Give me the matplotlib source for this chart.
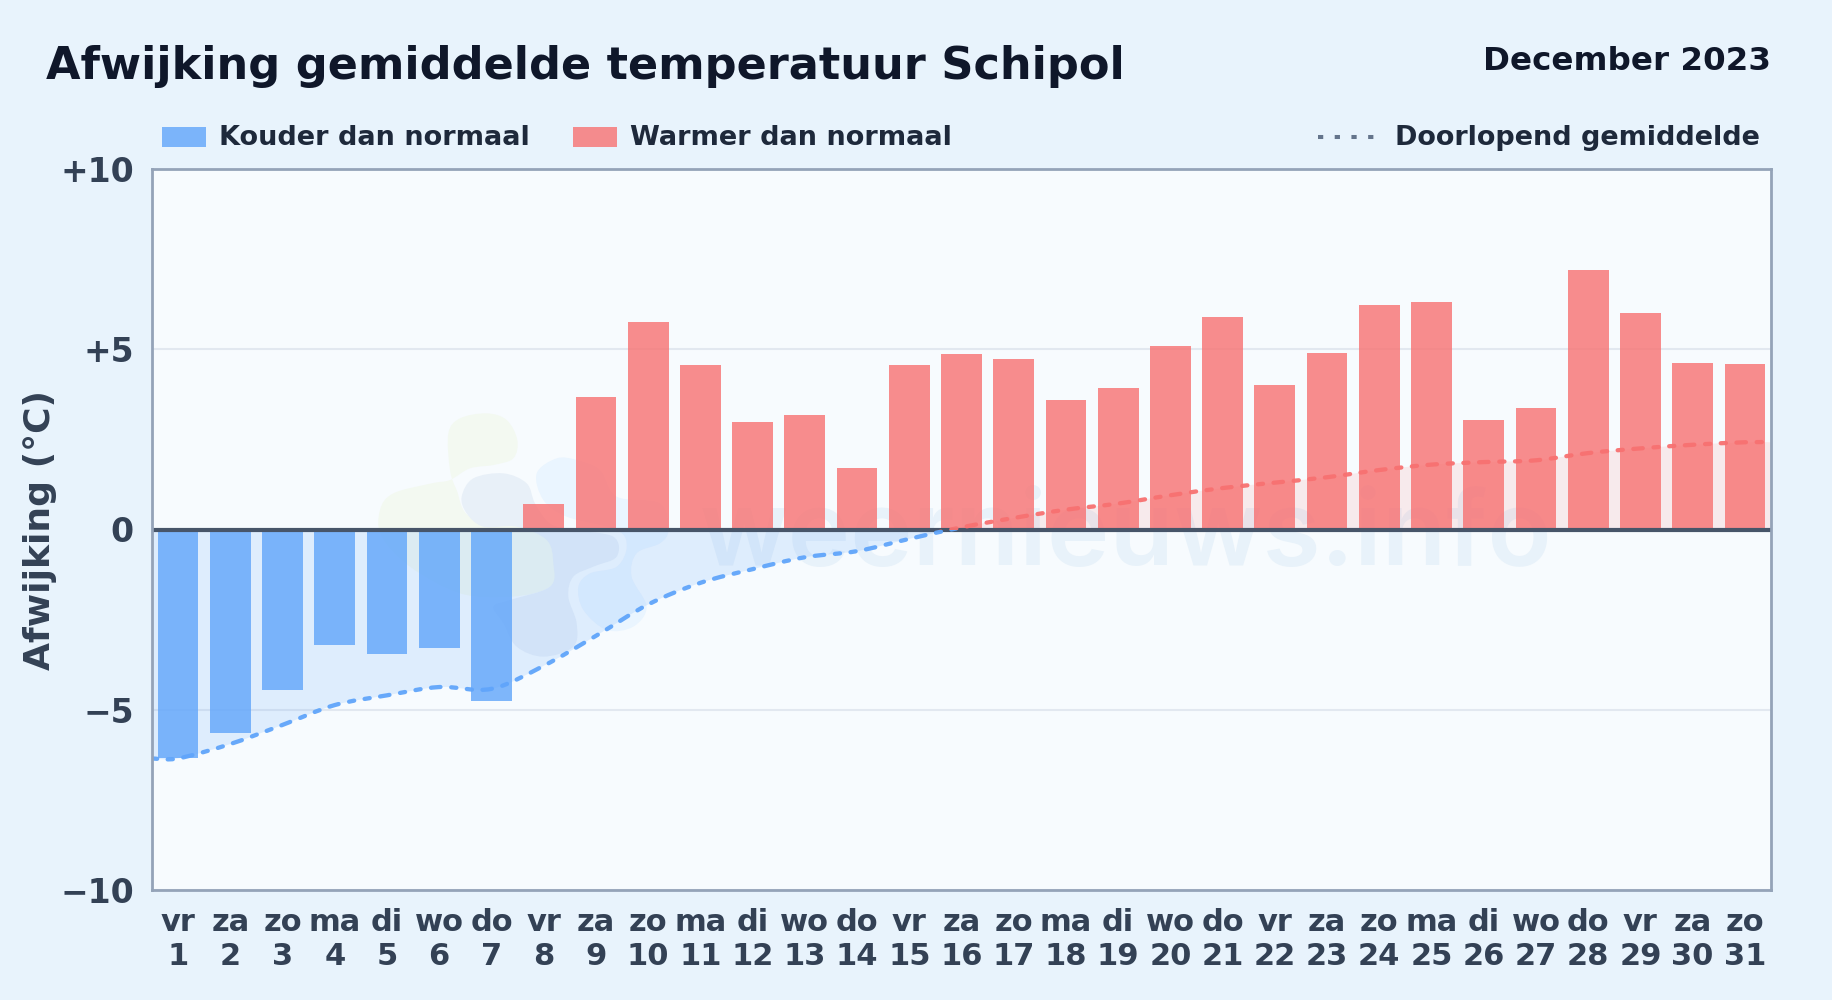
import numpy as np
import matplotlib
matplotlib.use("Agg")
import matplotlib.pyplot as plt
from matplotlib.path import Path
from matplotlib.patches import PathPatch, Rectangle
from matplotlib.transforms import Affine2D

# --- data ---
weekdays = ['vr', 'za', 'zo', 'ma', 'di', 'wo', 'do', 'vr', 'za', 'zo', 'ma', 'di', 'wo', 'do', 'vr', 'za',
            'zo', 'ma', 'di', 'wo', 'do', 'vr', 'za', 'zo', 'ma', 'di', 'wo', 'do', 'vr', 'za', 'zo']
days = list(range(1, 32))
deviation = [-6.35, -5.65, -4.45, -3.2, -3.45, -3.3, -4.75, 0.7, 3.67, 5.75, 4.55, 2.97, 3.17, 1.7, 4.55, 4.87,
             4.72, 3.6, 3.92, 5.1, 5.9, 4.0, 4.9, 6.22, 6.3, 3.05, 3.38, 7.2, 6.0, 4.62, 4.6]
running_mean = [-6.35, -5.95, -5.42, -4.87, -4.6, -4.37, -4.42, -3.78, -2.95, -2.08, -1.48, -1.1, -0.77, -0.6, -0.26, 0.06,
                0.32, 0.55, 0.72, 0.95, 1.15, 1.3, 1.45, 1.65, 1.8, 1.87, 1.92, 2.12, 2.25, 2.35, 2.42]
yticks = [-10, -5, 0, 5, 10]
ytick_labels = ['\u221210', '\u22125', '0', '+5', '+10']

BLUE = '#60a5fa'
RED = '#f87171'
W, H = 1832, 1000


def smooth_path(xs, ys, close_to=None):
    # catmull-rom door de punten, als bezier
    verts = [(xs[0], ys[0])]
    codes = [Path.MOVETO]
    n = len(xs)
    for i in range(n - 1):
        x0, y0 = (xs[i - 1], ys[i - 1]) if i > 0 else (xs[i], ys[i])
        x3, y3 = (xs[i + 2], ys[i + 2]) if i + 2 < n else (xs[i + 1], ys[i + 1])
        verts += [(xs[i] + (xs[i + 1] - x0) / 6, ys[i] + (ys[i + 1] - y0) / 6),
                  (xs[i + 1] - (x3 - xs[i]) / 6, ys[i + 1] - (y3 - ys[i]) / 6),
                  (xs[i + 1], ys[i + 1])]
        codes += [Path.CURVE4] * 3
    if close_to is not None:
        verts += [(xs[-1], close_to), (xs[0], close_to), (xs[0], ys[0])]
        codes += [Path.LINETO, Path.LINETO, Path.CLOSEPOLY]
    return Path(verts, codes)


def blob(pts, ox=360, oy=390, s=3.0):
    # gesloten vorm, punten in zoom-pixels
    xs = [ox + p[0] / s for p in pts]
    ys = [oy + p[1] / s for p in pts]
    n = len(xs)
    verts = [(xs[0], ys[0])]
    codes = [Path.MOVETO]
    for i in range(n):
        a, b, c, d = i - 1, i, (i + 1) % n, (i + 2) % n
        verts += [(xs[b] + (xs[c] - xs[a]) / 6, ys[b] + (ys[c] - ys[a]) / 6),
                  (xs[c] - (xs[d] - xs[b]) / 6, ys[c] - (ys[d] - ys[b]) / 6),
                  (xs[c], ys[c])]
        codes += [Path.CURVE4] * 3
    return Path(verts, codes)


fig = plt.figure(figsize=(W / 100, H / 100), dpi=100, facecolor='#e8f3fc')
ax = fig.add_axes([152 / W, (H - 890) / H, (1771 - 152) / W, (890 - 169) / H], facecolor='#f7fbfe')
px = Affine2D().scale(1, -1).translate(0, H)  # pixels, y omlaag

x = np.arange(len(days))
ax.set_xlim(-0.5, len(days) - 0.5)
ax.set_ylim(-10, 10)

ax.yaxis.grid(True, color='#e2e8f0', lw=1.5, zorder=1)
ax.set_axisbelow(True)

# --- watermerk ---
green = [(265, 130), (300, 85), (380, 70), (440, 90), (472, 150), (460, 205), (400, 225), (330, 235), (270, 270),
         (215, 280), (100, 310), (60, 360), (65, 440), (150, 530), (300, 610), (455, 620), (570, 590), (610, 510),
         (570, 440), (470, 400), (330, 380), (290, 300), (270, 240)]
grey = [(305, 320), (340, 265), (430, 250), (500, 280), (525, 340), (570, 400), (640, 420), (760, 440), (770, 500),
        (700, 530), (640, 560), (625, 620), (650, 700), (640, 770), (550, 800), (470, 770), (430, 700), (400, 650),
        (450, 630), (570, 590), (580, 520), (560, 450), (470, 410), (370, 410), (320, 370)]
light = [(530, 250), (590, 205), (650, 210), (720, 240), (770, 320), (900, 340), (925, 420), (900, 460), (830, 490),
         (815, 560), (860, 650), (820, 710), (740, 720), (670, 660), (655, 590), (690, 550), (770, 530), (800, 470),
         (770, 420), (620, 380), (550, 330)]
for pts, col in [(green, '#f3f9f1'), (grey, '#e8f0f8'), (light, '#eaf5ff')]:
    p = PathPatch(blob(pts), facecolor=col, edgecolor='none', transform=px, zorder=1.5)
    ax.add_patch(p)
ax.text(700, H - 565, 'weernieuws.info', transform=None, family='Inter', fontsize=76, fontweight='semibold',
        color='#e8f2fa', ha='left', va='baseline', zorder=1.6, clip_on=True)

# --- gevuld gebied en doorlopend gemiddelde ---
line_x = np.concatenate(([-0.5], x, [len(days) - 0.5]))
line_y = np.array([running_mean[0]] + running_mean + [running_mean[-1]])
below = Rectangle((-0.5, -10), len(days), 10, transform=ax.transData)
above = Rectangle((-0.5, 0), len(days), 10, transform=ax.transData)
for clip, col, fill_alpha in [(below, BLUE, 0.16), (above, RED, 0.12)]:
    fill = PathPatch(smooth_path(line_x, line_y, close_to=0), facecolor=col, edgecolor='none', alpha=fill_alpha, zorder=2)
    ax.add_patch(fill)
    fill.set_clip_path(clip)

# --- staven ---
colors = [BLUE if v < 0 else RED for v in deviation]
ax.bar(x, deviation, width=0.78, color=colors, alpha=0.8, zorder=3)
ax.axhline(0, color='#475569', lw=3, zorder=4)

for clip, col in [(below, BLUE), (above, RED)]:
    line = PathPatch(smooth_path(line_x, line_y), facecolor='none', edgecolor=col, lw=3.1, capstyle='round',
                     linestyle=(0, (1.2, 2.45, 1.2, 2.45, 2.2, 2.5)), alpha=0.95, zorder=5)
    ax.add_patch(line)
    line.set_clip_path(clip)

# --- assen ---
for s in ax.spines.values():
    s.set_color('#94a3b8')
    s.set_linewidth(2)
    s.set_zorder(6)
ax.set_yticks(yticks)
ax.set_yticklabels(ytick_labels, fontsize=23.8, fontweight='bold', color='#334155')
ax.set_xticks(x)
ax.set_xticklabels([f'{w}\n{d}' for w, d in zip(weekdays, days)], fontsize=22, fontweight='bold', color='#334155', linespacing=1.22)
ax.tick_params(axis='y', length=0, pad=13)
ax.tick_params(axis='x', length=0, pad=13)
fig.text(40 / W, 1 - 530 / H, 'Afwijking (°C)', rotation=90, fontsize=26, fontweight='bold', color='#334155',
         ha='center', va='center')

# --- kop en legenda ---
fig.text(46 / W, 1 - 67 / H, 'Afwijking gemiddelde temperatuur Schipol', fontsize=32.1, fontweight='bold', color='#0f172a',
         ha='left', va='center')
fig.text(1771 / W, 1 - 62 / H, 'December 2023', fontsize=23.4, fontweight='bold', color='#0f172a', ha='right', va='center')

fig.add_artist(Rectangle((162 / W, 1 - 147 / H), 44 / W, 20 / H, transform=fig.transFigure, facecolor=BLUE, alpha=0.8, edgecolor='none'))
fig.add_artist(Rectangle((573 / W, 1 - 147 / H), 44 / W, 20 / H, transform=fig.transFigure, facecolor=RED, alpha=0.8, edgecolor='none'))
fig.text(219 / W, 1 - 138 / H, 'Kouder dan normaal', fontsize=19.5, fontweight='bold', color='#1e293b', ha='left', va='center')
fig.text(630 / W, 1 - 138 / H, 'Warmer dan normaal', fontsize=19.5, fontweight='bold', color='#1e293b', ha='left', va='center')
fig.text(1760 / W, 1 - 138 / H, 'Doorlopend gemiddelde', fontsize=19.45, fontweight='bold', color='#1e293b', ha='right', va='center')
fig.add_artist(plt.Line2D([1318 / W, 1375 / W], [1 - 137 / H, 1 - 137 / H], transform=fig.transFigure, color='#64748b', lw=2.9,
                          linestyle=(0, (1.3, 2.85))))

fig.savefig('out.png', dpi=100, facecolor=fig.get_facecolor())
